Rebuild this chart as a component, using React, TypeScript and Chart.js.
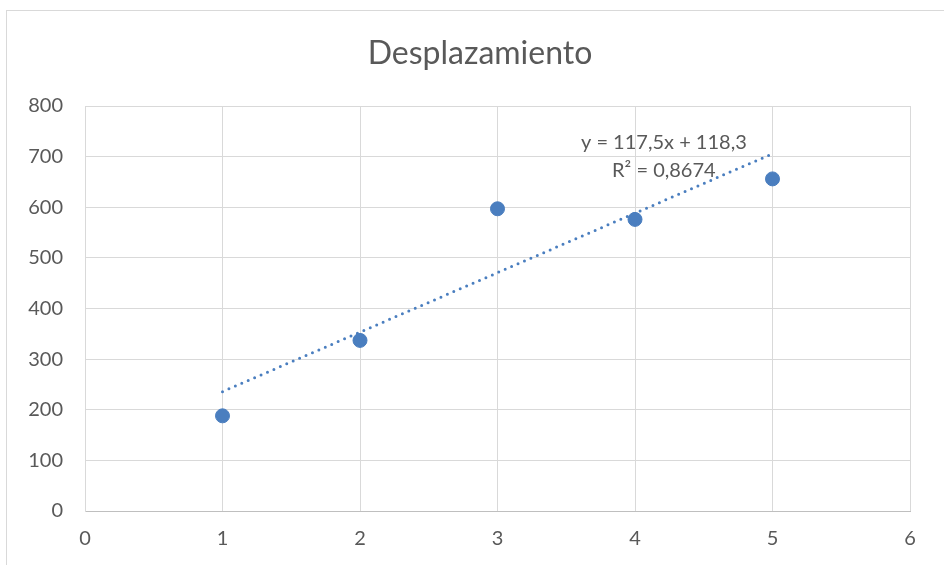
import React, { useEffect, useRef } from "react";
import { Chart, registerables } from "chart.js";

Chart.register(...registerables);

const titleText = "Desplazamiento";
const xValues = [1, 2, 3, 4, 5];
const yValues = [188, 337, 597, 576, 656];
const xTicks = [0, 1, 2, 3, 4, 5, 6];
const yTicks = [0, 100, 200, 300, 400, 500, 600, 700, 800];
const equationLines = ["y = 117,5x + 118,3", "R² = 0,8674"];

const FONT = "Lato, 'Open Sans', sans-serif";
const TEXT = "#595959";
const BLUE = "#4A7EBF";

function regression(xs: number[], ys: number[]) {
  const n = xs.length;
  const mx = xs.reduce((a, b) => a + b, 0) / n;
  const my = ys.reduce((a, b) => a + b, 0) / n;
  let sxy = 0, sxx = 0;
  for (let i = 0; i < n; i++) {
    sxy += (xs[i] - mx) * (ys[i] - my);
    sxx += (xs[i] - mx) ** 2;
  }
  const m = sxy / sxx;
  return { m, b: my - m * mx };
}

export default function App() {
  const ref = useRef<HTMLCanvasElement>(null);
  useEffect(() => {
    document.body.style.margin = "0";
    const { m, b } = regression(xValues, yValues);
    const xmin = Math.min(...xValues);
    const xmax = Math.max(...xValues);
    const decor = {
      id: "decor",
      beforeDraw(chart: any) {
        const ctx = chart.ctx;
        ctx.save();
        ctx.fillStyle = "#ffffff";
        ctx.fillRect(0, 0, chart.width, chart.height);
        ctx.strokeStyle = "#d9d9d9";
        ctx.lineWidth = 1;
        ctx.strokeRect(6.5, 10.5, chart.width + 10, chart.height + 10);
        ctx.fillStyle = TEXT;
        ctx.font = `32px ${FONT}`;
        ctx.textAlign = "center";
        ctx.textBaseline = "middle";
        ctx.fillText(titleText, 480, 54);
        ctx.restore();
      },
      afterDatasetsDraw(chart: any) {
        const ctx = chart.ctx;
        const xs = chart.scales.x;
        const ys = chart.scales.y;
        ctx.save();
        ctx.fillStyle = TEXT;
        ctx.font = `20px ${FONT}`;
        ctx.textAlign = "center";
        ctx.textBaseline = "middle";
        const cx = xs.getPixelForValue(4.21);
        ctx.fillText(equationLines[0], cx, ys.getPixelForValue(727));
        ctx.fillText(equationLines[1], cx, ys.getPixelForValue(672));
        ctx.restore();
      },
    };
    const chart = new Chart(ref.current!, {
      type: "scatter",
      data: {
        datasets: [
          {
            type: "line",
            label: "trend",
            data: [
              { x: xmin, y: m * xmin + b },
              { x: xmax, y: m * xmax + b },
            ],
            borderColor: BLUE,
            borderWidth: 3,
            borderDash: [0, 7],
            borderCapStyle: "round",
            pointRadius: 0,
            fill: false,
            order: 2,
          } as any,
          {
            label: "Desplazamiento",
            data: xValues.map((x, i) => ({ x, y: yValues[i] })),
            backgroundColor: BLUE,
            borderColor: BLUE,
            pointRadius: 7,
            pointHoverRadius: 7,
            order: 1,
          },
        ],
      },
      options: {
        responsive: false,
        animation: false,
        layout: { padding: { top: 106, right: 34, left: 0, bottom: 0 } },
        plugins: { legend: { display: false }, tooltip: { enabled: false }, title: { display: false } },
        scales: {
          x: {
            type: "linear",
            min: 0,
            max: 6,
            afterFit(s: any) { s.height = 54; },
            afterBuildTicks(s: any) { s.ticks = xTicks.map((v) => ({ value: v })); },
            grid: { color: "#d9d9d9", drawTicks: false, lineWidth: 1 },
            border: { color: "#bfbfbf", width: 1 },
            ticks: { color: TEXT, font: { family: FONT, size: 20 }, padding: 16 },
          },
          y: {
            type: "linear",
            min: 0,
            max: 800,
            afterFit(s: any) { s.width = 85; },
            afterBuildTicks(s: any) { s.ticks = yTicks.map((v) => ({ value: v })); },
            grid: { color: (c: any) => (c.tick && c.tick.value === 0 ? "#bfbfbf" : "#d9d9d9"), drawTicks: false, lineWidth: 1 },
            border: { color: "#d9d9d9", width: 1 },
            ticks: { color: TEXT, font: { family: FONT, size: 20 }, padding: 22 },
          },
        },
      },
      plugins: [decor],
    });
    return () => chart.destroy();
  }, []);
  return <canvas ref={ref} width={944} height={565} style={{ display: "block" }} />;
}
